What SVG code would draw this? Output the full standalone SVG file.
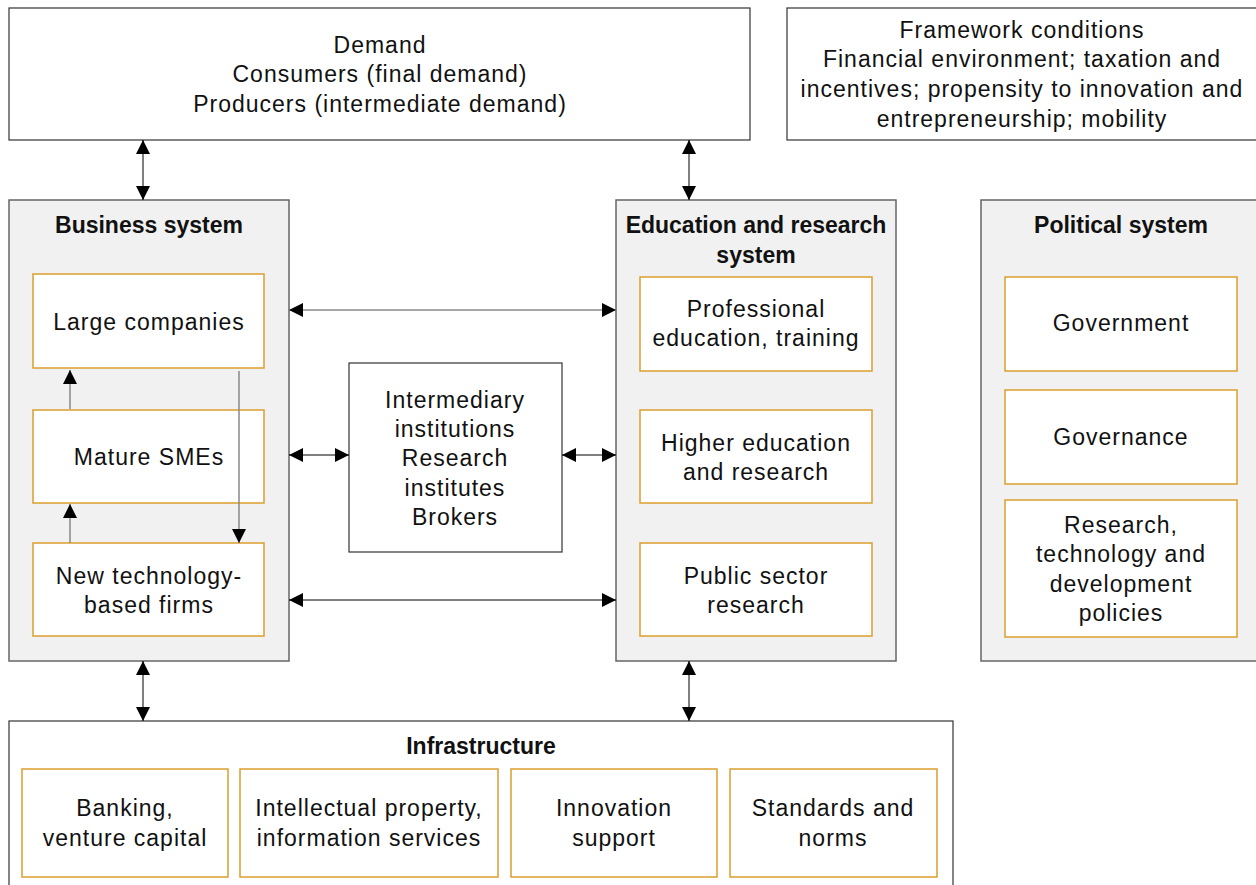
<svg xmlns="http://www.w3.org/2000/svg" width="1256" height="885" viewBox="0 0 1256 885">
<defs>
<marker id="ah" markerUnits="userSpaceOnUse" markerWidth="14" markerHeight="14" viewBox="0 0 14 14" refX="14" refY="7" orient="auto-start-reverse">
<path d="M0,0 L14,7 L0,14 Z" fill="#000"/>
</marker>
<style>
.t{font-family:"Liberation Sans",Arial,sans-serif;font-size:23px;letter-spacing:1px;fill:#111;text-anchor:middle}
.b{font-family:"Liberation Sans",Arial,sans-serif;font-size:23px;font-weight:bold;fill:#111;text-anchor:middle}
.panel{fill:#f1f1f1;stroke:#666;stroke-width:1.5}
.box{fill:#fff;stroke:#333;stroke-width:1.2}
.sub{fill:#fff;stroke:#dc9e2e;stroke-width:1.5}
.c{stroke:#000;stroke-width:1;fill:none}
.g{stroke:#888;stroke-width:1.5;fill:none}
</style>
</defs>
<rect width="1256" height="885" fill="#fff"/>

<g id="demand">
<rect class="box" x="9" y="8" width="741" height="132"/>
<text class="t" x="380" y="53">Demand</text>
<text class="t" x="380" y="82">Consumers (final demand)</text>
<text class="t" x="380" y="112">Producers (intermediate demand)</text>
</g>

<g id="framework">
<rect class="box" x="787" y="8" width="480" height="132"/>
<text class="t" x="1022" y="38">Framework conditions</text>
<text class="t" x="1022" y="67">Financial environment; taxation and</text>
<text class="t" x="1022" y="97">incentives; propensity to innovation and</text>
<text class="t" x="1022" y="127">entrepreneurship; mobility</text>
</g>

<g id="business">
<rect class="panel" x="9" y="200" width="280" height="461"/>
<text class="b" x="149" y="233">Business system</text>
</g>
<g id="large">
<rect class="sub" x="33" y="274" width="231" height="94"/>
<text class="t" x="149" y="330">Large companies</text>
</g>
<g id="smes">
<rect class="sub" x="33" y="410" width="231" height="93"/>
<text class="t" x="149" y="465">Mature SMEs</text>
</g>
<g id="ntbf">
<rect class="sub" x="33" y="543" width="231" height="93"/>
<text class="t" x="149" y="584">New technology-</text>
<text class="t" x="149" y="613">based firms</text>
</g>

<g id="education">
<rect class="panel" x="616" y="200" width="280" height="461"/>
<text class="b" x="756" y="233">Education and research</text>
<text class="b" x="756" y="263">system</text>
</g>
<g id="professional">
<rect class="sub" x="640" y="277" width="232" height="94"/>
<text class="t" x="756" y="317">Professional</text>
<text class="t" x="756" y="346">education, training</text>
</g>
<g id="higher">
<rect class="sub" x="640" y="410" width="232" height="93"/>
<text class="t" x="756" y="451">Higher education</text>
<text class="t" x="756" y="480">and research</text>
</g>
<g id="public">
<rect class="sub" x="640" y="543" width="232" height="93"/>
<text class="t" x="756" y="584">Public sector</text>
<text class="t" x="756" y="613">research</text>
</g>

<g id="political">
<rect class="panel" x="981" y="200" width="290" height="461"/>
<text class="b" x="1121" y="233">Political system</text>
</g>
<g id="government">
<rect class="sub" x="1005" y="277" width="232" height="94"/>
<text class="t" x="1121" y="331">Government</text>
</g>
<g id="governance">
<rect class="sub" x="1005" y="390" width="232" height="94"/>
<text class="t" x="1121" y="445">Governance</text>
</g>
<g id="rtd">
<rect class="sub" x="1005" y="500" width="232" height="137"/>
<text class="t" x="1121" y="533">Research,</text>
<text class="t" x="1121" y="562">technology and</text>
<text class="t" x="1121" y="592">development</text>
<text class="t" x="1121" y="621">policies</text>
</g>

<g id="intermediary">
<rect class="box" x="349" y="363" width="213" height="189"/>
<text class="t" x="455" y="408">Intermediary</text>
<text class="t" x="455" y="437">institutions</text>
<text class="t" x="455" y="466">Research</text>
<text class="t" x="455" y="496">institutes</text>
<text class="t" x="455" y="525">Brokers</text>
</g>

<g id="infrastructure">
<rect class="box" x="9" y="721" width="944" height="180"/>
<text class="b" x="481" y="754">Infrastructure</text>
</g>
<g id="banking">
<rect class="sub" x="22" y="769" width="206" height="108"/>
<text class="t" x="125" y="816">Banking,</text>
<text class="t" x="125" y="846">venture capital</text>
</g>
<g id="ip">
<rect class="sub" x="240" y="769" width="258" height="108"/>
<text class="t" x="369" y="816">Intellectual property,</text>
<text class="t" x="369" y="846">information services</text>
</g>
<g id="innovation">
<rect class="sub" x="511" y="769" width="206" height="108"/>
<text class="t" x="614" y="816">Innovation</text>
<text class="t" x="614" y="846">support</text>
</g>
<g id="standards">
<rect class="sub" x="730" y="769" width="207" height="108"/>
<text class="t" x="833" y="816">Standards and</text>
<text class="t" x="833" y="846">norms</text>
</g>

<g id="connectors">
<line class="c" x1="143" y1="140" x2="143" y2="200" marker-start="url(#ah)" marker-end="url(#ah)"/>
<line class="c" x1="689" y1="140" x2="689" y2="200" marker-start="url(#ah)" marker-end="url(#ah)"/>
<line class="c" x1="143" y1="661" x2="143" y2="721" marker-start="url(#ah)" marker-end="url(#ah)"/>
<line class="c" x1="689" y1="661" x2="689" y2="721" marker-start="url(#ah)" marker-end="url(#ah)"/>
<line class="g" x1="289" y1="310" x2="616" y2="310" marker-start="url(#ah)" marker-end="url(#ah)"/>
<line class="c" x1="289" y1="455" x2="349" y2="455" marker-start="url(#ah)" marker-end="url(#ah)"/>
<line class="c" x1="562" y1="455" x2="616" y2="455" marker-start="url(#ah)" marker-end="url(#ah)"/>
<line class="c" x1="289" y1="600" x2="616" y2="600" marker-start="url(#ah)" marker-end="url(#ah)"/>
<line class="g" x1="70" y1="409" x2="70" y2="370" marker-end="url(#ah)"/>
<line class="g" x1="70" y1="543" x2="70" y2="504" marker-end="url(#ah)"/>
<line class="g" x1="239" y1="371" x2="239" y2="543" marker-end="url(#ah)"/>
</g>
</svg>
